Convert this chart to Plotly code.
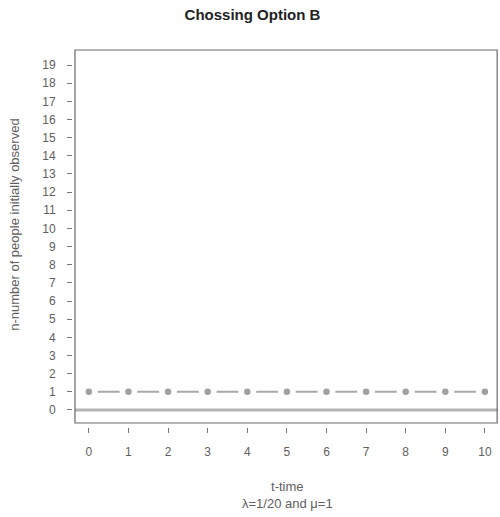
import plotly.graph_objects as go

# Observed counts over time
times = [0, 1, 2, 3, 4, 5, 6, 7, 8, 9, 10]
counts = [1, 1, 1, 1, 1, 1, 1, 1, 1, 1, 1]
y_ticks = list(range(0, 20))
x_ticks = list(range(0, 11))

title_text = "Chossing Option B"
y_title = "n-number of people initially observed"
x_title = "t-time<br>λ=1/20 and μ=1"

FONT = "Liberation Sans, Arial, sans-serif"

fig = go.Figure()

# reference line at zero
fig.add_hline(y=0, line=dict(color="#b4b4b4", width=3), layer="below")

# connecting line, broken around each point by white discs (like R type="b")
fig.add_trace(go.Scatter(x=times, y=counts, mode="lines",
                         line=dict(color="#a8a8a8", width=2), hoverinfo="skip"))
fig.add_trace(go.Scatter(x=times, y=counts, mode="markers",
                         marker=dict(color="white", size=18, line=dict(width=0)),
                         hoverinfo="skip"))
fig.add_trace(go.Scatter(x=times, y=counts, mode="markers",
                         marker=dict(color="#a0a0a0", size=6.5, line=dict(width=0))))

# plot frame
fig.add_shape(type="rect", xref="paper", yref="paper",
              x0=0.007, x1=0.998, y0=0.0106, y1=1,
              line=dict(color="#6a6a6a", width=1.2))

fig.update_layout(
    width=500, height=517,
    margin=dict(l=72, r=2, t=50, b=90),
    paper_bgcolor="white", plot_bgcolor="white",
    showlegend=False,
    font=dict(family=FONT, size=12, color="#606060"),
    title=dict(text="<b>" + title_text + "</b>", x=0.505, xanchor="center",
               y=0.971, yanchor="middle",
               font=dict(family=FONT, size=15, color="#222222")),
    xaxis=dict(domain=[0.007, 1], range=[-0.35, 10.33], anchor="free", position=0,
               tickmode="array", tickvals=x_ticks, ticktext=[str(v) for v in x_ticks],
               ticks="outside", ticklen=5, tickcolor="#777777", tickwidth=1,
               ticklabelstandoff=9,
               showgrid=False, zeroline=False, showline=False),
    yaxis=dict(domain=[0.0106, 1], range=[-0.72, 19.83], anchor="free", position=0,
               tickmode="array", tickvals=y_ticks, ticktext=[str(v) for v in y_ticks],
               ticks="outside", ticklen=5, tickcolor="#777777", tickwidth=1,
               ticklabelstandoff=9,
               showgrid=False, zeroline=False, showline=False),
    annotations=[
        dict(text=y_title, xref="paper", yref="paper", x=-0.134, y=0.536,
             textangle=-90, showarrow=False, xanchor="center", yanchor="middle",
             font=dict(family=FONT, size=13, color="#606060")),
        dict(text=x_title, xref="paper", yref="paper", x=0.505, y=-0.132,
             showarrow=False, xanchor="center", yanchor="top",
             font=dict(family=FONT, size=13, color="#606060")),
    ],
)

fig.write_html("out.html")
